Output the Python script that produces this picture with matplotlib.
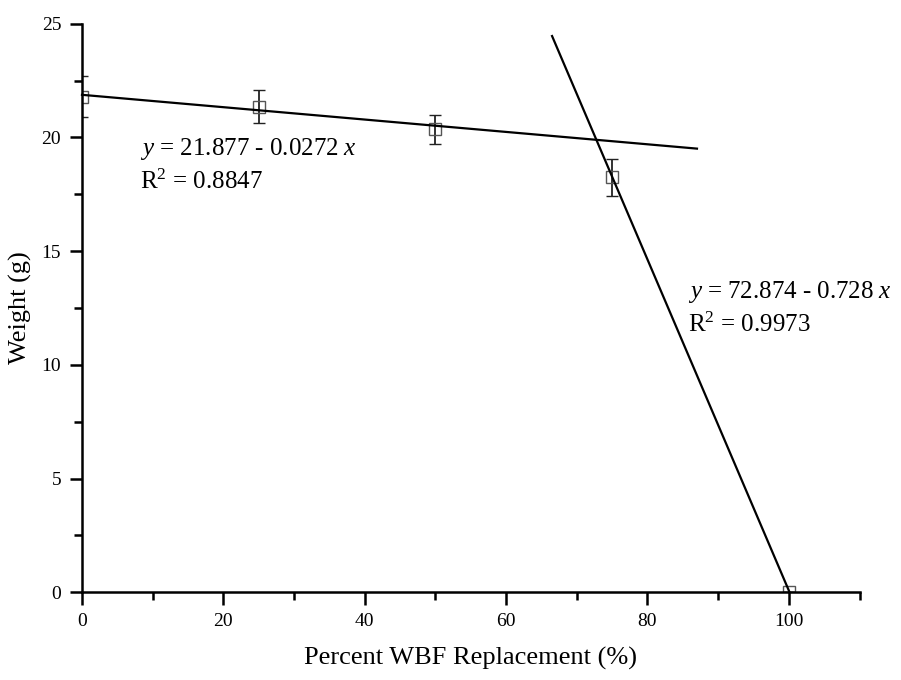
import numpy as np
import matplotlib.pyplot as plt
from matplotlib.ticker import MultipleLocator

plt.rcParams['font.family'] = ['Liberation Serif', 'DejaVu Serif']
plt.rcParams['mathtext.fontset'] = 'custom'
plt.rcParams['mathtext.rm'] = 'Liberation Serif'
plt.rcParams['mathtext.it'] = 'Liberation Serif:italic'

# measured points
replacement = [0, 25, 50, 75, 100]
weight = [21.80, 21.36, 20.37, 18.25, 0.0]
weight_sd = [0.92, 0.72, 0.64, 0.81, 0.0]

# fitted lines: (intercept, slope, x range)
fit1 = (21.877, -0.0272, (0, 87))
fit2 = (72.874, -0.728, (66.5, 100.1))

fig = plt.figure(figsize=(9.01, 6.8), dpi=100)
ax = fig.add_axes([0.091, 0.129, 0.863, 0.836])

for b, m, (x0, x1) in (fit1, fit2):
    xs = np.array([x0, x1])
    ax.plot(xs, b + m * xs, color='black', lw=1.6, zorder=3, clip_on=False)

ax.errorbar(replacement, weight, yerr=weight_sd, fmt='s', ms=8, mfc='none',
            mec='#555555', mew=1.0, ecolor='#222222', elinewidth=1.3,
            capsize=4.5, capthick=1.3, zorder=2)

ax.text(8.2, 19.5, r'$y$ = 21.877 - 0.0272 $x$', fontsize=18, va='center')
ax.text(8.2, 18.05, r'R$^2$ = 0.8847', fontsize=18, va='center')
ax.text(85.7, 13.2, r'$y$ = 72.874 - 0.728 $x$', fontsize=18, va='center')
ax.text(85.7, 11.75, r'R$^2$ = 0.9973', fontsize=18, va='center')

ax.set_xlim(0, 110)
ax.set_ylim(0, 25)
ax.xaxis.set_major_locator(MultipleLocator(20))
ax.xaxis.set_minor_locator(MultipleLocator(10))
ax.yaxis.set_major_locator(MultipleLocator(5))
ax.yaxis.set_minor_locator(MultipleLocator(2.5))
ax.spines['top'].set_visible(False)
ax.spines['right'].set_visible(False)
for s in ('left', 'bottom'):
    ax.spines[s].set_linewidth(1.8)
ax.tick_params(which='major', direction='out', length=9, width=1.8, labelsize=14, pad=6)
ax.tick_params(which='minor', direction='out', length=6, width=1.8)

ax.set_xlabel('Percent WBF Replacement (%)', fontsize=19, labelpad=12)
ax.set_ylabel('Weight (g)', fontsize=19, labelpad=7)

fig.savefig('out.png', dpi=100)
